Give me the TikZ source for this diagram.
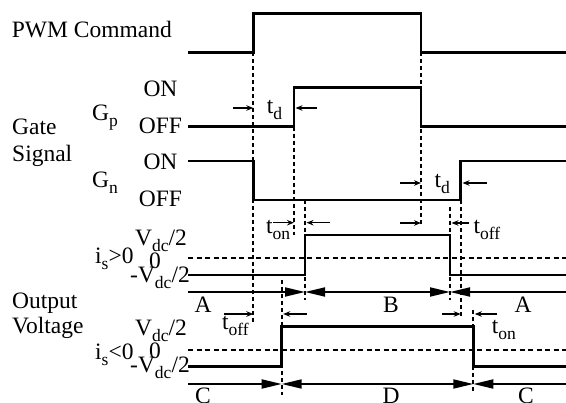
\documentclass[tikz,border=0pt]{standalone}
\usepackage{fontspec}
\setmainfont{Liberation Serif}
\usetikzlibrary{arrows.meta}
\newcommand\mysub[1]{\raisebox{-6pt}{\fontsize{17.5}{19}\selectfont #1}}
\begin{document}
\begin{tikzpicture}[x=1pt,y=-1pt,
  sig/.style={line width=2.6pt, line join=miter},
  guide/.style={line width=1.7pt, dash pattern=on 4pt off 3pt},
  zero/.style={line width=1.7pt, dash pattern=on 5pt off 3.5pt},
  tarr/.style={line width=1.2pt, -{Stealth[length=7pt,width=5.5pt]}},
  spanline/.style={line width=1.8pt},
  spanR/.style={spanline, -{Triangle[length=20pt,width=9pt]}},
  spanL/.style={spanline, {Triangle[length=20pt,width=9pt]}-},
  spanB/.style={spanline, {Triangle[length=20pt,width=9pt]}-{Triangle[length=20pt,width=9pt]}},
  lbl/.style={inner sep=0pt, font=\fontsize{23.5}{27}\selectfont},
]
\useasboundingbox (0,0) rectangle (566,403);

% ---------- dashed guide lines ----------
\draw[guide] (253.3,52.3) -- (253.3,323);
\draw[guide] (294,126.7) -- (294,235);
\draw[guide] (305,200) -- (305,300);
\draw[guide] (421,52.3) -- (421,225);
\draw[guide] (450,206.7) -- (450,300);
\draw[guide] (460.7,200) -- (460.7,317);
\draw[guide] (281.7,280) -- (281.7,395);
\draw[guide] (473.3,310) -- (473.3,393);

% zero lines
\draw[zero] (188,258) -- (566,258);
\draw[zero] (188,350) -- (566,350);

% ---------- signals ----------
\draw[sig] (188,52.3) -- (253.3,52.3) -- (253.3,13.3) -- (421,13.3) -- (421,52.3) -- (566,52.3);
\draw[sig] (188,126.7) -- (294,126.7) -- (294,87.3) -- (421,87.3) -- (421,126.7) -- (566,126.7);
\draw[sig] (188,161) -- (253.3,161) -- (253.3,200) -- (460.7,200) -- (460.7,161) -- (566,161);
\draw[sig] (188,275) -- (305,275) -- (305,235) -- (450,235) -- (450,275) -- (566,275);
\draw[sig] (188,366.5) -- (281.7,366.5) -- (281.7,326.7) -- (473.3,326.7) -- (473.3,366.5) -- (566,366.5);

% ---------- interval arrows ----------
\coordinate (sa0) at (188,292);
\coordinate (sa1) at (305,292);
\coordinate (sa2) at (450,292);
\coordinate (sa3) at (566,292);
\draw[spanR] (sa0) -- (sa1);
\draw[spanB] (sa1) -- (sa2);
\draw[spanL] (sa2) -- (sa3);
\coordinate (sc0) at (188,384);
\coordinate (sc1) at (281.7,384);
\coordinate (sc2) at (473.3,384);
\coordinate (sc3) at (566,384);
\draw[spanR] (sc0) -- (sc1);
\draw[spanB] (sc1) -- (sc2);
\draw[spanL] (sc2) -- (sc3);

% ---------- delay arrows ----------
\coordinate (d1a) at (233,108);   \coordinate (d1b) at (253.3,108);
\coordinate (d1c) at (317,108);   \coordinate (d1d) at (295.5,108);
\coordinate (d2a) at (400,183);   \coordinate (d2b) at (421,183);
\coordinate (d2c) at (487,183);   \coordinate (d2d) at (462.5,183);
\coordinate (n1a) at (273,222.7); \coordinate (n1b) at (294,222.7);
\coordinate (n1c) at (330,222.7); \coordinate (n1d) at (306.5,222.7);
\coordinate (f1a) at (400,223);   \coordinate (f1b) at (421,223);
\coordinate (f1c) at (469,223);   \coordinate (f1d) at (451.5,223);
\coordinate (f2a) at (224,314);   \coordinate (f2b) at (253.3,314);
\coordinate (f2c) at (307,314);   \coordinate (f2d) at (283.2,314);
\coordinate (n2a) at (442,314);   \coordinate (n2b) at (460.7,314);
\coordinate (n2c) at (497,314);   \coordinate (n2d) at (474.8,314);
\foreach \p in {d1,d2,n1,f1,f2,n2}{
  \draw[tarr] (\p a) -- (\p b);
  \draw[tarr] (\p c) -- (\p d);
}

% ---------- labels ----------
\node[lbl, anchor=base west] (pwm) at (11.7,38) {PWM Command};
\node[lbl, anchor=base west] (gate) at (12,135) {Gate};
\node[lbl, anchor=base west] (signal) at (12,162) {Signal};
\node[lbl, anchor=base west] (gp) at (92,121) {G\mysub{p}};
\node[lbl, anchor=base west] (gn) at (92,188) {G\mysub{n}};
\node[lbl, anchor=base] (on1) at (160.5,96.7) {ON};
\node[lbl, anchor=base] (off1) at (160.5,133.3) {OFF};
\node[lbl, anchor=base] (on2) at (160.5,169.3) {ON};
\node[lbl, anchor=base] (off2) at (160.5,206.7) {OFF};

\node[lbl, anchor=base west] (output) at (12,308.3) {Output};
\node[lbl, anchor=base west] (voltage) at (12,333.3) {Voltage};
\node[lbl, anchor=base west] (isp) at (95,263.3) {i\mysub{s}>0};
\node[lbl, anchor=base west] (isn) at (95,360) {i\mysub{s}<0};
\node[lbl, anchor=base west] (vh1) at (135,245.5) {V\mysub{dc}/2};
\node[lbl, anchor=base] (z1) at (155,268.3) {0};
\node[lbl, anchor=base west] (vl1) at (130,282.5) {-V\mysub{dc}/2};
\node[lbl, anchor=base west] (vh2) at (135,336) {V\mysub{dc}/2};
\node[lbl, anchor=base] (z2) at (155,358.3) {0};
\node[lbl, anchor=base west] (vl2) at (130,372.5) {-V\mysub{dc}/2};

\node[lbl, anchor=base west] (td1) at (266.7,113.3) {t\mysub{d}};
\node[lbl, anchor=base west] (td2) at (434.3,187.3) {t\mysub{d}};
\node[lbl, anchor=base west] (ton1) at (266,233.3) {t\mysub{on}};
\node[lbl, anchor=base west] (toff1) at (473.3,233.3) {t\mysub{off}};
\node[lbl, anchor=base west] (toff2) at (222,330) {t\mysub{off}};
\node[lbl, anchor=base west] (ton2) at (491.7,333.3) {t\mysub{on}};

\node[lbl] (A1) at (203,305) {A};
\node[lbl] (B) at (391,305) {B};
\node[lbl] (A2) at (523,305) {A};
\node[lbl] (C1) at (203,395.5) {C};
\node[lbl] (D) at (391,395.5) {D};
\node[lbl] (C2) at (526,395.5) {C};
\end{tikzpicture}
\end{document}
